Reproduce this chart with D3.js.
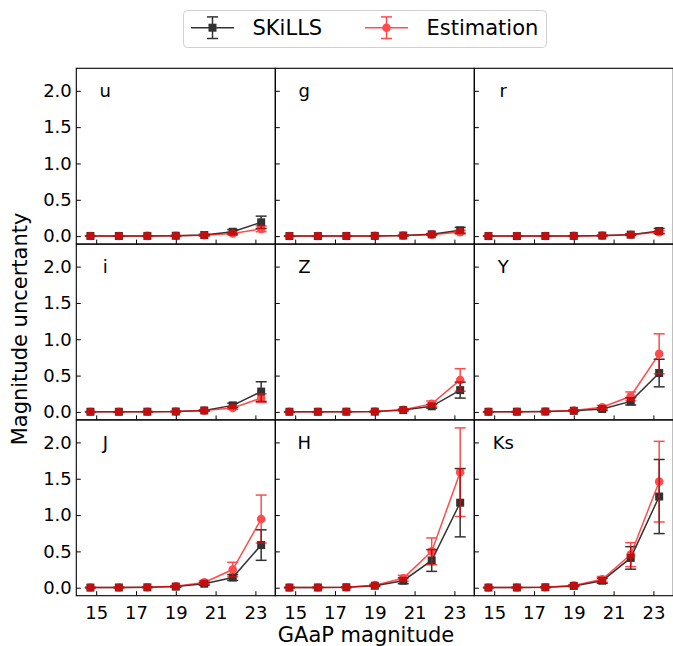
<!DOCTYPE html>
<html>
<head>
<meta charset="utf-8">
<script src="https://cdn.jsdelivr.net/npm/d3@7"></script>
<style>
  body { margin: 0; background: #fff; }
  svg { display: block; font-family: "DejaVu Sans", sans-serif; }
</style>
</head>
<body>
<svg id="chart" width="673" height="646"></svg>
<script>
// bin centres (GAaP magnitude)
const magBins = [14.71, 16.14, 17.57, 19.0, 20.43, 21.86, 23.29];
const bands = ["u", "g", "r", "i", "Z", "Y", "J", "H", "Ks"];
const xTicks = [15, 17, 19, 21, 23];
const yTicks = [0, 0.5, 1.0, 1.5, 2.0];

// SKiLLS values / errors per band
const skillsVal = [
  [0.002, 0.002, 0.003, 0.005, 0.015, 0.06, 0.19],
  [0.001, 0.001, 0.002, 0.003, 0.008, 0.025, 0.08],
  [0.001, 0.001, 0.002, 0.003, 0.007, 0.02, 0.07],
  [0.002, 0.002, 0.003, 0.005, 0.02, 0.09, 0.28],
  [0.002, 0.002, 0.003, 0.004, 0.025, 0.077, 0.30],
  [0.002, 0.003, 0.005, 0.015, 0.04, 0.145, 0.535],
  [0.002, 0.003, 0.005, 0.015, 0.055, 0.14, 0.587],
  [0.002, 0.003, 0.006, 0.027, 0.096, 0.375, 1.17],
  [0.002, 0.003, 0.006, 0.025, 0.096, 0.41, 1.255]
];
const skillsErr = [
  [0.001, 0.001, 0.002, 0.003, 0.01, 0.03, 0.085],
  [0.001, 0.001, 0.001, 0.002, 0.005, 0.01, 0.04],
  [0.001, 0.001, 0.001, 0.002, 0.005, 0.01, 0.035],
  [0.001, 0.001, 0.002, 0.003, 0.01, 0.03, 0.135],
  [0.001, 0.001, 0.002, 0.003, 0.01, 0.025, 0.11],
  [0.001, 0.002, 0.003, 0.008, 0.02, 0.05, 0.19],
  [0.001, 0.002, 0.003, 0.01, 0.02, 0.04, 0.21],
  [0.001, 0.002, 0.004, 0.01, 0.04, 0.15, 0.47],
  [0.001, 0.002, 0.004, 0.01, 0.035, 0.155, 0.51]
];
// Estimation values / errors per band
const estVal = [
  [0.002, 0.002, 0.003, 0.004, 0.012, 0.035, 0.10],
  [0.001, 0.001, 0.002, 0.003, 0.007, 0.02, 0.055],
  [0.001, 0.001, 0.002, 0.003, 0.006, 0.018, 0.055],
  [0.002, 0.002, 0.003, 0.005, 0.018, 0.055, 0.19],
  [0.002, 0.002, 0.003, 0.005, 0.03, 0.11, 0.44],
  [0.002, 0.003, 0.005, 0.02, 0.065, 0.215, 0.80],
  [0.002, 0.003, 0.006, 0.02, 0.073, 0.25, 0.945],
  [0.002, 0.003, 0.007, 0.035, 0.13, 0.50, 1.59],
  [0.002, 0.003, 0.007, 0.03, 0.115, 0.455, 1.46]
];
const estErr = [
  [0.001, 0.001, 0.001, 0.002, 0.01, 0.02, 0.04],
  [0.001, 0.001, 0.001, 0.002, 0.005, 0.01, 0.025],
  [0.001, 0.001, 0.001, 0.002, 0.005, 0.01, 0.02],
  [0.001, 0.001, 0.002, 0.003, 0.01, 0.02, 0.06],
  [0.001, 0.001, 0.002, 0.003, 0.01, 0.04, 0.155],
  [0.001, 0.002, 0.003, 0.01, 0.025, 0.06, 0.275],
  [0.001, 0.002, 0.003, 0.01, 0.025, 0.1, 0.33],
  [0.001, 0.002, 0.004, 0.015, 0.04, 0.185, 0.61],
  [0.001, 0.002, 0.004, 0.012, 0.04, 0.165, 0.555]
];

const svg = d3.select("#chart");

var left0 = 76.3, top0 = 68.3, panelW = 199, panelH = 175.8;
var tickLen = 4.5, capW = 5.5;

var x = d3.scaleLinear().domain([14, 24]).range([0, panelW]);
var y = d3.scaleLinear().domain([-0.11, 2.31]).range([panelH, 0]);

var series = [
  { name: "SKiLLS", vals: skillsVal, errs: skillsErr, color: "#000", alpha: 0.8, marker: "square" },
  { name: "Estimation", vals: estVal, errs: estErr, color: "#ff0000", alpha: 0.7, marker: "circle" }
];

function drawSeries(g, s, pts) {
  var grp = g.append("g").attr("opacity", s.alpha);
  var line = d3.line().x(d => x(d.m)).y(d => y(d.v));
  grp.append("path")
    .datum(pts)
    .attr("fill", "none")
    .attr("stroke", s.color)
    .attr("stroke-width", 1.5)
    .attr("d", line);
  pts.forEach(d => {
    var cx = x(d.m);
    grp.append("line")
      .attr("x1", cx).attr("x2", cx)
      .attr("y1", y(d.v - d.e)).attr("y2", y(d.v + d.e))
      .attr("stroke", s.color).attr("stroke-width", 1.5);
    [d.v - d.e, d.v + d.e].forEach(v => {
      grp.append("line")
        .attr("x1", cx - capW).attr("x2", cx + capW)
        .attr("y1", y(v)).attr("y2", y(v))
        .attr("stroke", s.color).attr("stroke-width", 1.5);
    });
  });
  pts.forEach(d => {
    if (s.marker == "square") {
      grp.append("rect")
        .attr("x", x(d.m) - 4).attr("y", y(d.v) - 4)
        .attr("width", 8).attr("height", 8)
        .attr("fill", s.color);
    } else {
      grp.append("circle")
        .attr("cx", x(d.m)).attr("cy", y(d.v))
        .attr("r", 4.3)
        .attr("fill", s.color);
    }
  });
}

bands.forEach((band, i) => {
  var col = i % 3, row = Math.floor(i / 3);
  var g = svg.append("g")
    .attr("transform", "translate(" + (left0 + col * panelW) + "," + (top0 + row * panelH) + ")");

  var clip = "clip" + i;
  g.append("clipPath").attr("id", clip)
    .append("rect").attr("width", panelW).attr("height", panelH);
  var plot = g.append("g").attr("clip-path", "url(#" + clip + ")");

  series.forEach(s => {
    var pts = magBins.map((m, k) => ({ m: m, v: s.vals[i][k], e: s.errs[i][k] }));
    drawSeries(plot, s, pts);
  });

  // axes with inward ticks
  var xAxis = g.append("g")
    .attr("transform", "translate(0," + panelH + ")")
    .call(d3.axisBottom(x).tickValues(xTicks).tickSizeInner(-tickLen).tickSizeOuter(0).tickPadding(tickLen + 6));
  if (row < 2) xAxis.selectAll("text").remove();
  var yAxis = g.append("g")
    .call(d3.axisLeft(y).tickValues(yTicks).tickFormat(d3.format(".1f")).tickSizeInner(-tickLen).tickSizeOuter(0).tickPadding(4.5));
  if (col > 0) yAxis.selectAll("text").remove();
  g.selectAll(".domain").remove();
  g.selectAll(".tick line").attr("stroke", "#000").attr("stroke-width", 1);
  g.selectAll(".tick text").attr("font-size", 18).attr("fill", "#000")
    .attr("font-family", "DejaVu Sans");

  g.append("rect")
    .attr("width", panelW).attr("height", panelH)
    .attr("fill", "none").attr("stroke", "#000").attr("stroke-width", 1.1);

  g.append("text")
    .attr("x", 29).attr("y", 29)
    .attr("text-anchor", "middle")
    .attr("font-size", 18)
    .text(band);
});

// axis titles
svg.append("text")
  .attr("x", 366).attr("y", 642)
  .attr("text-anchor", "middle")
  .attr("font-size", 21)
  .text("GAaP magnitude");
svg.append("text")
  .attr("transform", "translate(27,329) rotate(-90)")
  .attr("text-anchor", "middle")
  .attr("font-size", 21)
  .text("Magnitude uncertanty");

// legend
var lg = svg.append("g");
lg.append("rect")
  .attr("x", 183.5).attr("y", 10.5).attr("width", 363).attr("height", 37)
  .attr("rx", 4).attr("fill", "#fff").attr("stroke", "#d0d0d0").attr("stroke-width", 1);
var legendX = [191, 365];
series.forEach((s, k) => {
  var x0 = legendX[k], cy = 27.7, cx = x0 + 21.5;
  var h = lg.append("g").attr("opacity", s.alpha);
  h.append("line").attr("x1", x0).attr("x2", x0 + 43).attr("y1", cy).attr("y2", cy)
    .attr("stroke", s.color).attr("stroke-width", 1.5);
  h.append("line").attr("x1", cx).attr("x2", cx).attr("y1", cy - 10.8).attr("y2", cy + 10.8)
    .attr("stroke", s.color).attr("stroke-width", 1.5);
  [cy - 10.8, cy + 10.8].forEach(v => {
    h.append("line").attr("x1", cx - capW).attr("x2", cx + capW).attr("y1", v).attr("y2", v)
      .attr("stroke", s.color).attr("stroke-width", 1.5);
  });
  if (s.marker == "square")
    h.append("rect").attr("x", cx - 4).attr("y", cy - 4).attr("width", 8).attr("height", 8).attr("fill", s.color);
  else
    h.append("circle").attr("cx", cx).attr("cy", cy).attr("r", 4.3).attr("fill", s.color);
  lg.append("text")
    .attr("x", x0 + 61.5).attr("y", cy + 7.5)
    .attr("font-size", 21)
    .text(s.name);
});
</script>
</body>
</html>
